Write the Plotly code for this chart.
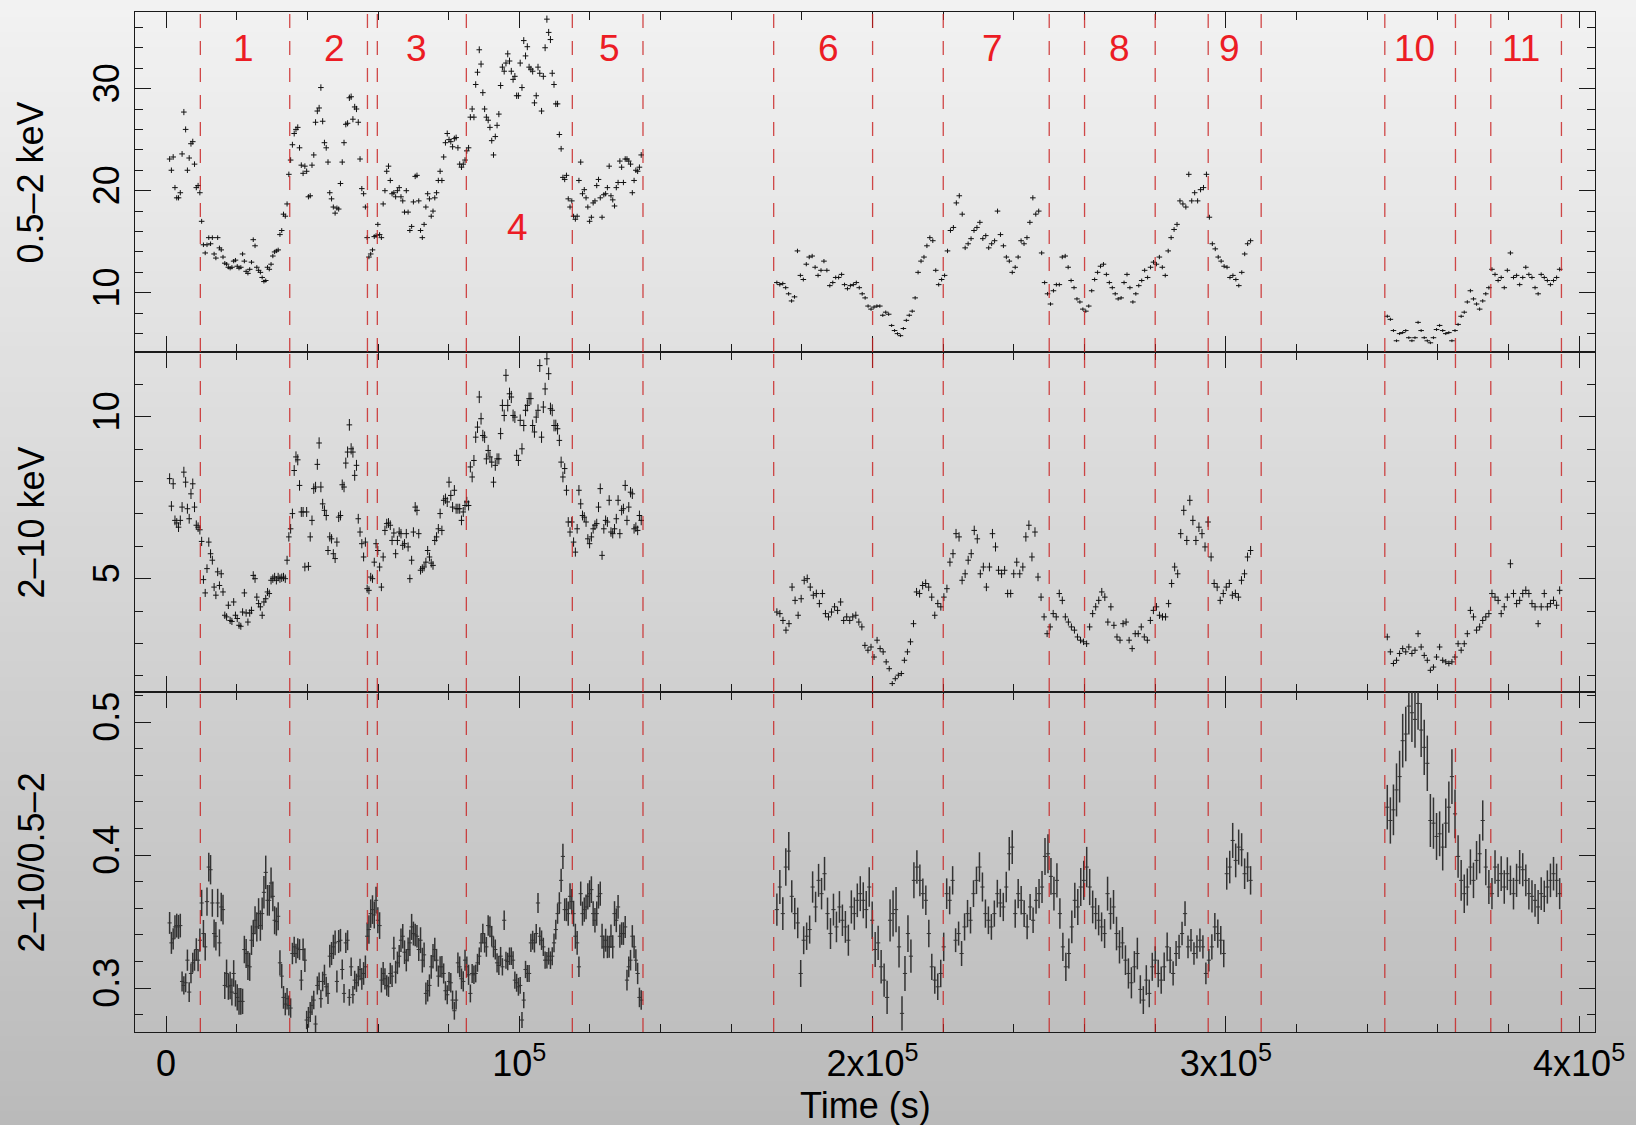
import numpy as np
import plotly.graph_objects as go
from plotly.subplots import make_subplots

FONT = "Liberation Sans, Arial, Helvetica, sans-serif"
LIVE = 300.0  # effective live time per light-curve bin (s), sets the Poisson errors

# time spans covered by the three observing segments (s)
span_a = (1.0e3, 134.5e3)
span_b = (172.9e3, 307.0e3)
span_c = (345.7e3, 394.5e3)

# 0.5-2 keV count rate (cts/s)
soft_a = [23.1, 22.0, 23.3, 20.3, 19.3, 19.3, 19.8, 23.6, 27.7, 26.0,
          22.0, 23.2, 24.6, 24.8, 22.6, 20.3, 20.5, 19.8, 17.0, 14.7,
          13.9, 14.7, 15.4, 14.8, 15.4, 13.8, 13.4, 15.4, 14.4, 14.2,
          13.5, 12.9, 12.8, 12.5, 12.4, 12.5, 13.1, 13.2, 12.6, 12.4,
          12.5, 13.8, 13.1, 12.1, 11.9, 12.3, 13.0, 15.2, 14.6, 12.5,
          12.2, 12.0, 11.5, 11.1, 11.2, 12.5, 12.3, 12.8, 13.6, 14.0,
          14.1, 14.2, 15.7, 16.1, 17.7, 17.5, 18.7, 21.6, 23.0, 24.5,
          25.6, 26.0, 26.2, 24.2, 22.5, 21.7, 22.4, 21.9, 19.4, 19.5,
          22.5, 23.5, 26.7, 27.8, 28.1, 30.1, 26.8, 24.7, 24.2, 22.8,
          19.8, 19.2, 18.4, 17.8, 18.3, 18.2, 20.7, 22.8, 24.7, 26.5,
          26.6, 29.1, 29.2, 27.0, 28.2, 28.0, 26.7, 23.1, 20.2, 19.7,
          18.4, 15.4, 13.5, 13.8, 14.2, 15.5, 15.6, 16.7, 15.7, 15.4,
          18.7, 20.0, 21.9, 22.4, 21.0, 19.7, 19.8, 19.4, 20.0, 20.3,
          19.4, 19.0, 17.9, 20.0, 17.9, 16.1, 16.5, 18.9, 21.4, 21.5,
          19.0, 16.1, 15.4, 16.7, 18.4, 19.7, 19.2, 17.5, 18.0, 19.3,
          19.8, 21.0, 21.9, 21.0, 23.3, 24.7, 25.6, 25.0, 24.8, 24.3,
          25.1, 25.2, 24.2, 22.6, 22.3, 22.6, 23.0, 23.9, 24.2, 27.2,
          28.0, 27.2, 30.4, 31.6, 33.8, 32.4, 29.6, 28.0, 27.2, 26.9,
          26.2, 24.9, 23.5, 25.3, 26.4, 27.5, 30.3, 32.1, 31.7, 32.5,
          33.4, 32.7, 31.7, 30.9, 31.2, 29.3, 29.3, 32.5, 30.1, 34.7,
          33.2, 34.1, 32.1, 31.9, 31.7, 28.6, 29.3, 32.1, 31.5, 27.8,
          31.2, 34.0, 36.8, 35.5, 34.8, 31.5, 30.4, 28.5, 28.5, 25.5,
          24.1, 21.3, 21.1, 21.5, 19.2, 18.4, 19.0, 17.5, 17.2, 17.5,
          21.0, 22.8, 19.7, 20.1, 19.3, 18.4, 17.0, 17.4, 18.8, 19.0,
          20.5, 21.1, 19.3, 17.4, 19.6, 19.7, 20.3, 22.4, 19.5, 19.1,
          18.5, 20.3, 20.8, 22.9, 22.3, 20.8, 23.1, 23.1, 22.9, 22.6,
          19.8, 21.0, 22.0, 21.9, 22.3, 23.5]
soft_b = [11.0, 10.8, 10.9, 10.5, 9.9, 9.2, 9.6, 14.1, 11.7, 11.3,
          12.8, 13.5, 13.6, 12.5, 11.7, 12.2, 13.1, 12.2, 10.7, 11.0,
          11.5, 11.5, 11.8, 10.8, 10.4, 10.7, 10.8, 11.0, 10.5, 9.9,
          9.5, 8.7, 8.4, 8.6, 8.7, 8.7, 7.8, 8.1, 7.9, 6.8,
          6.3, 6.0, 5.8, 6.5, 7.3, 7.8, 8.2, 9.5, 12.0, 13.1,
          13.5, 14.6, 15.4, 15.1, 12.2, 10.8, 11.3, 11.7, 14.1, 16.1,
          16.4, 18.8, 19.5, 17.7, 14.4, 14.8, 15.3, 16.1, 16.4, 16.9,
          15.3, 15.6, 14.4, 14.8, 15.1, 18.0, 15.7, 14.6, 13.5, 13.1,
          12.0, 12.5, 13.5, 15.1, 14.8, 15.4, 16.9, 19.3, 17.7, 18.0,
          13.9, 11.0, 9.9, 8.9, 10.2, 10.8, 10.8, 13.5, 13.6, 12.5,
          11.2, 10.5, 9.4, 9.1, 8.4, 8.2, 8.7, 10.2, 11.3, 12.0,
          12.6, 12.8, 11.8, 11.0, 10.5, 9.9, 9.4, 9.5, 11.0, 11.8,
          10.5, 9.1, 9.9, 10.7, 11.2, 12.2, 11.5, 12.5, 13.0, 12.8,
          13.5, 12.5, 11.7, 14.1, 15.4, 16.2, 16.7, 19.0, 18.7, 18.4,
          21.6, 19.0, 19.8, 19.0, 20.1, 20.3, 21.6, 17.4, 14.8, 14.3,
          13.5, 13.1, 12.6, 12.5, 11.5, 11.7, 11.3, 10.7, 12.0, 13.8,
          14.8, 15.1]
soft_c = [7.7, 7.4, 6.3, 5.3, 6.0, 6.1, 6.3, 5.6, 5.3, 5.6,
          7.1, 6.3, 5.6, 5.3, 5.1, 5.6, 6.4, 6.8, 6.3, 6.0,
          6.1, 5.3, 6.3, 6.9, 7.7, 8.1, 9.1, 10.2, 9.4, 8.9,
          8.4, 9.2, 9.9, 10.5, 12.3, 11.8, 11.2, 11.5, 10.5, 12.2,
          13.9, 11.5, 11.7, 10.8, 11.5, 12.5, 11.8, 11.5, 10.5, 9.9,
          11.8, 11.5, 11.2, 10.8, 11.2, 11.5, 12.3]

# 2-10 keV count rate (cts/s)
hard_a = [8.09, 7.24, 7.93, 6.80, 6.72, 6.59, 6.80, 7.21, 8.29, 7.98,
          7.16, 6.85, 7.62, 7.93, 7.21, 6.65, 6.59, 6.51, 6.15, 4.97,
          4.56, 5.31, 6.13, 5.77, 5.57, 4.74, 4.49, 5.21, 4.79, 5.15,
          4.59, 3.87, 3.82, 4.18, 3.71, 3.68, 4.28, 3.87, 3.77, 3.56,
          3.53, 3.97, 4.56, 3.94, 3.66, 3.94, 4.02, 5.10, 5.00, 4.43,
          4.23, 4.13, 3.87, 4.28, 4.38, 4.59, 4.54, 4.95, 5.00, 5.05,
          4.95, 5.05, 5.00, 5.03, 5.05, 5.00, 5.57, 6.29, 6.54, 7.01,
          8.34, 8.76, 8.67, 7.88, 7.06, 7.06, 5.36, 7.06, 5.38, 6.29,
          6.80, 7.78, 7.83, 8.53, 9.19, 7.83, 7.31, 7.11, 6.95, 5.87,
          6.29, 6.23, 5.77, 5.62, 6.13, 6.90, 6.95, 7.90, 7.83, 8.57,
          8.91, 9.75, 9.01, 8.91, 8.19, 8.50, 6.85, 6.44, 6.08, 5.67,
          6.13, 4.69, 4.64, 5.05, 5.00, 5.51, 6.08, 5.87, 5.36, 4.74,
          5.67, 6.49, 6.70, 6.72, 6.65, 6.18, 6.41, 5.77, 6.18, 6.44,
          6.39, 6.03, 6.08, 6.39, 5.98, 5.00, 5.57, 6.44, 7.21, 7.11,
          6.39, 5.26, 5.31, 5.36, 5.51, 5.87, 5.67, 5.48, 5.41, 6.18,
          6.29, 6.54, 7.01, 6.49, 7.42, 7.47, 7.37, 7.98, 7.57, 7.21,
          7.73, 7.16, 7.16, 7.16, 6.80, 7.06, 7.26, 7.37, 7.26, 8.45,
          8.14, 8.65, 9.37, 9.68, 10.61, 9.94, 9.42, 9.37, 8.70, 8.96,
          8.76, 8.60, 7.98, 8.50, 8.70, 8.70, 9.48, 10.35, 10.04, 11.28,
          10.35, 10.71, 10.61, 10.04, 9.99, 8.81, 8.65, 9.89, 9.01, 9.73,
          10.20, 10.35, 10.56, 10.56, 9.73, 9.53, 9.99, 10.20, 11.58, 9.37,
          10.30, 10.86, 11.79, 11.33, 10.25, 10.20, 9.73, 9.73, 9.63, 9.27,
          8.60, 8.14, 8.40, 7.73, 6.75, 6.44, 6.75, 6.13, 5.82, 6.54,
          7.73, 7.31, 6.95, 6.90, 6.75, 6.23, 6.08, 6.29, 6.54, 6.65,
          6.70, 7.21, 7.78, 5.72, 6.54, 6.80, 6.75, 7.42, 6.44, 6.39,
          6.54, 6.85, 7.42, 6.39, 7.11, 7.16, 7.88, 6.80, 7.21, 7.67,
          7.62, 6.54, 6.59, 6.49, 6.95, 6.80]
hard_b = [3.97, 3.92, 3.71, 3.41, 3.61, 4.74, 4.33, 3.87, 4.38, 4.95,
          5.00, 4.74, 4.49, 4.54, 4.23, 4.54, 3.92, 3.82, 3.97, 4.13,
          4.02, 4.28, 3.71, 3.82, 3.71, 3.82, 3.87, 3.66, 3.51, 2.94,
          2.79, 2.89, 2.58, 3.10, 2.84, 2.74, 2.43, 2.22, 1.76, 1.91,
          2.02, 2.07, 2.48, 2.74, 3.05, 3.61, 4.59, 4.54, 4.79, 4.85,
          4.74, 4.43, 3.87, 4.23, 4.13, 4.43, 4.69, 5.51, 5.77, 6.39,
          6.29, 4.95, 5.15, 5.57, 5.77, 6.49, 6.23, 5.15, 5.36, 4.74,
          5.36, 6.39, 5.98, 5.26, 5.15, 5.26, 4.54, 4.54, 5.15, 5.51,
          5.15, 5.36, 6.29, 6.65, 5.67, 6.44, 5.05, 4.43, 3.82, 3.30,
          3.51, 3.92, 3.82, 4.54, 4.33, 3.82, 3.66, 3.51, 3.41, 3.20,
          3.10, 3.05, 2.99, 3.51, 3.92, 4.13, 4.33, 4.59, 4.43, 3.66,
          4.13, 3.56, 3.20, 3.10, 3.61, 3.66, 3.10, 2.84, 3.30, 3.30,
          3.51, 3.20, 3.10, 3.71, 4.02, 4.13, 3.87, 3.82, 3.82, 4.23,
          4.85, 5.36, 5.15, 6.39, 7.11, 6.18, 7.42, 6.80, 6.18, 6.59,
          6.39, 5.98, 6.75, 5.67, 4.85, 4.74, 4.33, 4.54, 4.74, 4.85,
          4.49, 4.54, 4.43, 4.95, 5.15, 5.67, 5.87]
hard_c = [3.20, 2.74, 2.38, 2.48, 2.69, 2.84, 2.74, 2.89, 2.69, 2.79,
          3.30, 2.89, 2.63, 2.48, 2.17, 2.27, 2.58, 2.89, 2.48, 2.43,
          2.38, 2.43, 2.58, 2.99, 2.79, 2.99, 3.30, 4.02, 3.82, 3.41,
          3.51, 3.71, 3.82, 3.92, 4.54, 4.43, 4.33, 3.92, 4.13, 4.43,
          5.46, 4.54, 4.23, 4.33, 4.54, 4.64, 4.54, 4.23, 4.13, 3.61,
          4.13, 4.54, 4.13, 4.23, 4.33, 4.18, 4.64]

# hardness ratio (2-10 keV / 0.5-2 keV)
ratio_a = [.349, .334, .337, .346, .347, .346, .347, .305, .302, .304,
           .321, .297, .311, .319, .321, .329, .321, .336, .364, .341,
           .331, .365, .391, .389, .364, .341, .339, .364, .334, .361,
           .359, .302, .311, .301, .302, .297, .311, .296, .293, .290,
           .290, .290, .329, .326, .317, .316, .336, .341, .351, .346,
           .356, .347, .356, .372, .387, .366, .366, .379, .369, .351,
           .350, .354, .319, .309, .293, .288, .292, .287, .285, .326,
           .331, .326, .330, .329, .306, .329, .321, .276, .278, .282,
           .287, .291, .273, .302, .305, .292, .305, .310, .301, .296,
           .324, .326, .331, .334, .305, .335, .336, .314, .296, .334,
           .336, .293, .316, .295, .306, .304, .309, .314, .307, .311,
           .316, .339, .344, .356, .359, .355, .366, .351, .347, .306,
           .311, .307, .302, .301, .311, .309, .330, .312, .319, .324,
           .336, .339, .327, .321, .329, .334, .346, .341, .340, .339,
           .329, .336, .321, .325, .296, .298, .302, .316, .324, .329,
           .321, .309, .316, .316, .311, .298, .295, .305, .304, .291,
           .283, .291, .319, .316, .307, .305, .321, .316, .310, .296,
           .311, .310, .311, .319, .324, .334, .341, .334, .331, .347,
           .346, .339, .331, .329, .319, .317, .324, .316, .351, .321,
           .320, .324, .324, .321, .306, .304, .301, .302, .276, .291,
           .314, .311, .311, .334, .336, .334, .341, .364, .339, .336,
           .331, .321, .321, .324, .321, .324, .334, .344, .356, .364,
           .381, .399, .359, .359, .356, .369, .365, .356, .339, .334,
           .316, .371, .356, .359, .361, .369, .371, .374, .356, .351,
           .356, .369, .371, .339, .331, .336, .331, .331, .339, .331,
           .356, .351, .361, .339, .341, .341, .346, .306, .316, .321,
           .339, .331, .321, .311, .293, .291]
ratio_b = [.359, .376, .356, .391, .403, .369, .356, .349, .311, .336,
           .339, .344, .376, .361, .381, .371, .386, .356, .341, .359,
           .346, .361, .351, .346, .336, .361, .356, .366, .371, .366,
           .359, .376, .351, .329, .334, .316, .306, .293, .351, .356,
           .359, .331, .281, .311, .341, .324, .381, .391, .381, .371,
           .366, .341, .316, .306, .301, .311, .331, .371, .366, .381,
           .336, .341, .326, .346, .356, .351, .371, .381, .391, .376,
           .356, .351, .346, .356, .371, .364, .361, .376, .401, .406,
           .356, .371, .366, .356, .346, .361, .351, .366, .371, .376,
           .399, .401, .384, .371, .381, .356, .331, .316, .326, .346,
           .366, .361, .376, .381, .391, .376, .361, .356, .351, .346,
           .341, .371, .356, .361, .341, .331, .334, .321, .311, .304,
           .316, .326, .299, .291, .306, .296, .316, .321, .311, .306,
           .316, .331, .321, .311, .326, .331, .341, .356, .331, .336,
           .326, .331, .336, .331, .311, .321, .331, .346, .341, .336,
           .326, .386, .391, .411, .396, .406, .404, .386, .391, .381]
ratio_c = [.436, .426, .434, .449, .459, .486, .491, .512, .507, .502,
           .514, .494, .481, .469, .426, .424, .414, .416, .406, .424,
           .436, .459, .431, .399, .381, .371, .376, .391, .381, .396,
           .401, .426, .391, .376, .371, .391, .381, .386, .376, .386,
           .381, .371, .381, .391, .389, .381, .371, .369, .366, .361,
           .371, .369, .376, .381, .386, .381, .371]

# interval boundaries (s) and interval numbering
boundaries = [9.7e3, 35.0e3, 57.0e3, 59.8e3, 85.0e3, 115.0e3, 135.0e3,
              172.0e3, 200.0e3, 220.0e3, 250.0e3, 260.0e3, 280.0e3, 295.0e3, 310.0e3,
              345.0e3, 365.0e3, 375.0e3, 395.0e3]
interval_names = ["1", "2", "3", "4", "5", "6", "7", "8", "9", "10", "11"]
interval_t = [21.8e3, 47.6e3, 70.9e3, 99.6e3, 125.4e3, 187.6e3, 234.0e3, 270.0e3, 301.0e3, 353.3e3, 383.5e3]
interval_rate = [33.9, 33.9, 33.9, 16.4, 33.9, 33.9, 33.9, 33.9, 33.9, 33.9, 33.9]

time_ticks = [0, 1e5, 2e5, 3e5, 4e5]
time_ticktext = ["0", "10<sup>5</sup>", "2x10<sup>5</sup>", "3x10<sup>5</sup>", "4x10<sup>5</sup>"]

spans = [span_a, span_b, span_c]
soft = [soft_a, soft_b, soft_c]
hard = [hard_a, hard_b, hard_c]
ratio = [ratio_a, ratio_b, ratio_c]


def seg_times(span, values):
    return np.linspace(span[0], span[1], len(values))


def poisson_err(rate):
    rate = np.asarray(rate, float)
    return np.sqrt(rate * LIVE) / LIVE


t_soft = np.concatenate([seg_times(s, v) for s, v in zip(spans, soft)])
v_soft = np.concatenate([np.asarray(v, float) for v in soft])
t_hard = np.concatenate([seg_times(s, v) for s, v in zip(spans, hard)])
v_hard = np.concatenate([np.asarray(v, float) for v in hard])
t_ratio = np.concatenate([seg_times(s, v) for s, v in zip(spans, ratio)])
v_ratio = np.concatenate([np.asarray(v, float) for v in ratio])

# ratio uncertainty propagated from the Poisson errors of both bands
ratio_err = []
for span, s, h, r in zip(spans, soft, hard, ratio):
    tr = seg_times(span, r)
    s_at = np.interp(tr, seg_times(span, s), s)
    h_at = np.interp(tr, seg_times(span, h), h)
    ratio_err.append(np.asarray(r) * np.sqrt(1.0 / (s_at * LIVE) + 1.0 / (h_at * LIVE)))
ratio_err = np.concatenate(ratio_err)

fig = make_subplots(rows=3, cols=1, shared_xaxes=True, vertical_spacing=0)


def add_curve(row, t, v, err, color, thick, size):
    fig.add_trace(go.Scatter(
        x=t, y=v, mode="markers",
        marker=dict(symbol="line-ew", size=size, color=color, line=dict(width=1, color=color)),
        error_y=dict(type="data", array=err, visible=True, width=0, thickness=thick, color=color),
        showlegend=False, hoverinfo="skip"), row=row, col=1)


add_curve(1, t_soft, v_soft, poisson_err(v_soft), "#111111", 1.0, 4)
add_curve(2, t_hard, v_hard, poisson_err(v_hard), "#111111", 1.0, 4)
add_curve(3, t_ratio, v_ratio, ratio_err, "#333333", 1.5, 3)

AX = "#1a1a1a"
common = dict(showline=True, linecolor=AX, linewidth=1.3, mirror="allticks",
              ticks="inside", tickcolor=AX, tickwidth=1.3, ticklen=16,
              showgrid=False, zeroline=False,
              tickfont=dict(family=FONT, size=36, color="black"))

fig.update_xaxes(**common, range=[-8.8e3, 404.5e3], tickmode="array",
                 tickvals=time_ticks, ticktext=time_ticktext,
                 minor=dict(tickmode="linear", tick0=0, dtick=2e4, ticks="inside",
                            ticklen=8, tickcolor=AX, tickwidth=1.2, showgrid=False))
fig.update_yaxes(**common, tickangle=-90)
fig.update_yaxes(range=[4.2, 37.5], tickmode="array", tickvals=[10, 20, 30],
                 minor=dict(tickmode="linear", tick0=0, dtick=2, ticks="inside",
                            ticklen=8, tickcolor=AX, tickwidth=1.2, showgrid=False),
                 row=1, col=1)
fig.update_yaxes(range=[1.5, 12.0], tickmode="array", tickvals=[5, 10],
                 minor=dict(tickmode="linear", tick0=0, dtick=1, ticks="inside",
                            ticklen=8, tickcolor=AX, tickwidth=1.2, showgrid=False),
                 row=2, col=1)
fig.update_yaxes(range=[0.267, 0.5226], tickmode="array", tickvals=[0.3, 0.4, 0.5],
                 ticktext=["0.3", "0.4", "0.5"],
                 minor=dict(tickmode="linear", tick0=0, dtick=0.02, ticks="inside",
                            ticklen=8, tickcolor=AX, tickwidth=1.2, showgrid=False),
                 row=3, col=1)

W, H = 1636, 1125
ML, MR, MT, MB = 135, 34, 11, 93
PW, PH = W - ML - MR, H - MT - MB

shapes = []
# soft vertical grey gradient behind everything
n_strips = 75
top_grey, bottom_grey = 242, 186
y_lo, y_hi = -MB / PH, 1 + MT / PH
for i in range(n_strips):
    f0 = i / n_strips
    f1 = (i + 1) / n_strips
    g = int(round(bottom_grey + (top_grey - bottom_grey) * (f0 + f1) / 2))
    shapes.append(dict(type="rect", xref="paper", yref="paper", layer="below",
                       x0=-ML / PW - 0.01, x1=1 + MR / PW + 0.01,
                       y0=y_lo + (y_hi - y_lo) * f0 - 0.001, y1=y_lo + (y_hi - y_lo) * f1 + 0.001,
                       line=dict(width=0), fillcolor=f"rgb({g},{g},{g})"))

# dashed interval boundaries, drawn panel by panel
for yd in ["y domain", "y2 domain", "y3 domain"]:
    for b in boundaries:
        shapes.append(dict(type="line", xref="x", yref=yd, layer="above",
                           x0=b, x1=b, y0=0, y1=1,
                           line=dict(color="rgba(200,30,30,0.8)", width=1.3, dash="14px,13px")))

annotations = []
for name, t, r in zip(interval_names, interval_t, interval_rate):
    annotations.append(dict(x=t, y=r, xref="x", yref="y", text=name, showarrow=False,
                            font=dict(family=FONT, size=37, color="#ec1c24"),
                            xanchor="center", yanchor="middle"))

axis_titles = [("0.5–2 keV", 5 / 6), ("2–10 keV", 3 / 6), ("2–10/0.5–2", 1 / 6)]
for text, yc in axis_titles:
    annotations.append(dict(x=(31 - ML) / PW, y=yc, xref="paper", yref="paper", text=text,
                            textangle=-90, showarrow=False, xanchor="center", yanchor="middle",
                            font=dict(family=FONT, size=36, color="black")))
annotations.append(dict(x=0.5, y=-(1106 - (H - MB)) / PH, xref="paper", yref="paper",
                        text="Time (s)", showarrow=False, xanchor="center", yanchor="middle",
                        font=dict(family=FONT, size=36, color="black")))

fig.update_layout(width=W, height=H, margin=dict(l=ML, r=MR, t=MT, b=MB),
                  paper_bgcolor="rgb(214,214,214)", plot_bgcolor="rgba(0,0,0,0)",
                  shapes=shapes, annotations=annotations, showlegend=False,
                  font=dict(family=FONT, size=36, color="black"))

fig.write_html("out.html")
